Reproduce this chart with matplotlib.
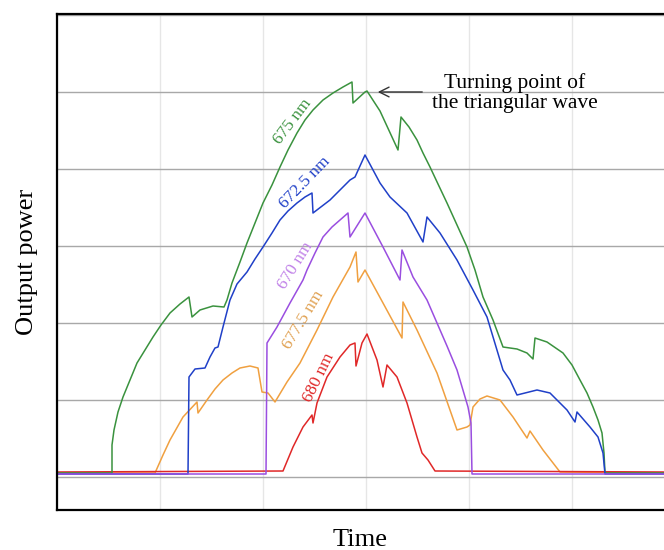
import matplotlib.pyplot as plt
from matplotlib.ticker import MultipleLocator

plt.rcParams["font.family"] = ["Liberation Serif", "DejaVu Serif"]

# time / output power in arbitrary units (no tick labels on the original)
t675 = [0, 55, 55, 57, 61, 66, 73, 80, 88, 96, 104, 113, 123, 132, 135, 143, 156, 167, 170,
        175, 183, 190, 198, 206, 215, 223, 231, 240, 248, 256, 266, 276, 286, 295, 296, 308,
        310, 323, 341, 344, 352, 360, 366, 373, 381, 390, 400, 410, 418, 426, 436, 446,
        460, 470, 476, 478, 490, 506, 515, 523, 530, 536, 541, 545, 547, 548, 607]
p675 = [4, 4, 32, 47, 65, 80, 97, 114, 127, 140, 152, 164, 173, 180, 160, 167, 171, 170, 177,
        194, 215, 234, 254, 274, 292, 310, 327, 344, 357, 367, 377, 384, 390, 395, 374, 385,
        386, 366, 327, 360, 350, 337, 324, 310, 293, 274, 252, 230, 207, 180, 157, 130,
        128, 124, 118, 139, 135, 124, 112, 97, 84, 70, 57, 44, 24, 4, 4]

t6725 = [0, 131, 132, 138, 148, 153, 158, 161, 166, 173, 180, 190, 198, 206, 215, 223, 231, 240,
         248, 255, 256, 273, 293, 298, 308, 323, 333, 350, 366, 370, 383, 400, 416, 430, 446,
         453, 460, 480, 493, 510, 518, 520, 533, 541, 546, 548, 607]
p6725 = [3, 3, 100, 108, 109, 120, 129, 130, 150, 177, 193, 205, 218, 230, 244, 257, 266, 274,
         280, 284, 264, 277, 297, 300, 322, 294, 280, 264, 235, 260, 244, 217, 187, 160, 107,
         97, 82, 87, 84, 67, 55, 65, 50, 40, 24, 3, 3]

t670 = [0, 209, 210, 220, 233, 246, 250, 258, 266, 275, 283, 291, 293, 308, 326, 343, 345, 356,
        370, 380, 390, 400, 411, 414, 415, 607]
p670 = [3, 3, 134, 150, 174, 197, 207, 224, 240, 250, 257, 264, 240, 264, 230, 197, 227, 200,
        177, 154, 131, 107, 70, 54, 3, 3]

t6775 = [0, 98, 106, 113, 126, 140, 141, 150, 158, 166, 175, 183, 193, 201, 205, 211, 218, 230,
         243, 260, 276, 293, 299, 301, 308, 326, 345, 346, 360, 380, 400, 410, 413, 416, 423,
         430, 443, 456, 470, 473, 486, 503, 607]
p6775 = [4, 4, 22, 37, 60, 75, 64, 77, 88, 97, 104, 109, 111, 109, 85, 84, 75, 95,
         114, 147, 180, 210, 225, 195, 207, 174, 139, 175, 147, 104, 47, 50, 52, 70, 78,
         81, 77, 60, 39, 46, 27, 5, 4]

t680 = [0, 226, 236, 246, 255, 256, 260, 270, 283, 293, 298, 299, 305, 310, 320, 326, 330, 340,
        350, 360, 365, 371, 378, 607]
p680 = [5, 6, 30, 50, 62, 54, 74, 100, 120, 132, 134, 111, 134, 143, 117, 90, 112, 100,
        74, 40, 24, 17, 6, 5]

fig = plt.figure(figsize=(6.64, 5.5), dpi=100)
ax = fig.add_axes([57 / 664, 40 / 550, 607 / 664, 496 / 550])

ax.plot(t6775, p6775, color="#f0a040", lw=1.1)
ax.plot(t680, p680, color="#e02828", lw=1.1)
ax.plot(t675, p675, color="#3a923e", lw=1.1)
ax.plot(t6725, p6725, color="#2040c8", lw=1.1)
ax.plot(t670, p670, color="#9a4ee0", lw=1.1)

ax.text(236, 355, "675 nm", color="#3a923e", fontsize=12.5, rotation=53, ha="center", va="center")
ax.text(248, 294, "672.5 nm", color="#2040c8", fontsize=12.5, rotation=46, ha="center", va="center")
ax.text(239, 211, "670 nm", color="#c080e8", fontsize=12.5, rotation=58, ha="center", va="center")
ax.text(246, 157, "677.5 nm", color="#e0a050", fontsize=12.5, rotation=59, ha="center", va="center")
ax.text(262, 99, "680 nm", color="#e02828", fontsize=12.5, rotation=64, ha="center", va="center")

ax.text(458, 384, "Turning point of\nthe triangular wave", fontsize=15.5, ha="center", va="center",
        linespacing=1.05)
ax.annotate("", xy=(318, 385), xytext=(368, 385),
            arrowprops=dict(arrowstyle="->,head_length=0.7,head_width=0.35",
                            color="#333333", lw=1.0))

ax.set_xlim(0, 607)
ax.set_ylim(-33, 463)
ax.xaxis.set_major_locator(MultipleLocator(103))
ax.yaxis.set_major_locator(MultipleLocator(77))
ax.grid(axis="y", color="#a8a8a8", lw=1.0)
ax.grid(axis="x", color="#e6e6e6", lw=1.0)
ax.set_axisbelow(True)
ax.tick_params(length=0, labelleft=False, labelbottom=False)
for side in ["top", "left", "bottom"]:
    ax.spines[side].set_linewidth(1.6)
ax.spines["right"].set_visible(False)

ax.set_xlabel("Time", fontsize=19, labelpad=14)
ax.set_ylabel("Output power", fontsize=19, labelpad=14)

plt.savefig("out.png", dpi=100)
